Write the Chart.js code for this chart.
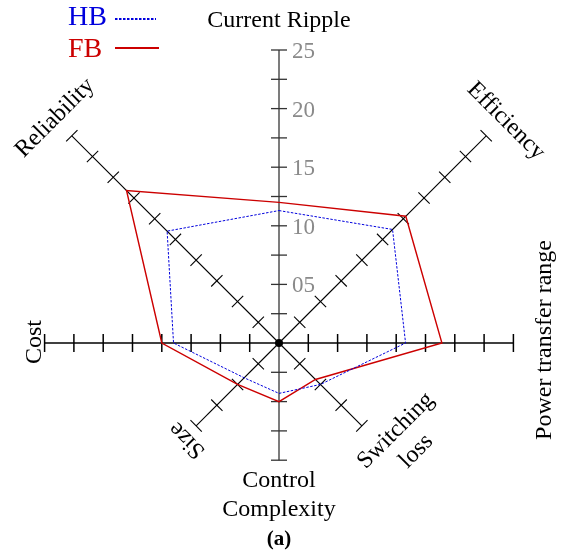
<!DOCTYPE html>
<html>
<head>
<meta charset="utf-8">
<title>HB / FB</title>
<script src="https://cdn.jsdelivr.net/npm/chart.js@4.4.0/dist/chart.umd.min.js"></script>
<style>
  html, body { margin: 0; padding: 0; background: #fff; overflow: hidden; }
  #radar { display: block; }
</style>
</head>
<body>
<canvas id="radar" width="571" height="559"></canvas>
<script>
/* =======================================
   RADAR HB vs FB
======================================= */

// -------------------------
// Data
// -------------------------
const categories = ['Current Ripple', 'Efficiency', 'Power transfer range', ['Switching', 'loss'],
                    ['Control', 'Complexity'], 'Size', 'Cost', 'Reliability'];
const hbValues = [11.3, 13.7, 10.8, 5.0, 4.3, 4.2, 9.0, 13.5];
const fbValues = [12.0, 15.3, 13.9, 4.4, 5.0, 5.0, 10.0, 18.4];
const axisExtent = [25, 25, 20, 10, 10, 10, 20, 25];
const tickLabels = ['05', '10', '15', '20', '25'];
const scaleMax = 25;
const tickStep = 2.5;

// -------------------------
// Layout / styles
// -------------------------
const CENTER_X = 279, CENTER_Y = 343, RADIUS = 293;
const SERIF = '"Liberation Serif", "Times New Roman", serif';
const HB_COLOR = '#0000dd';
const FB_COLOR = '#cc0000';

// where each axis title sits (text centre + rotation in degrees)
const titlePlacement = [
    { x: 279, y: 21,  rot: 0 },
    { x: 506, y: 121, rot: 45 },
    { x: 545, y: 340, rot: -90 },
    { x: 406, y: 441, rot: -45 },
    { x: 279, y: 495, rot: 0 },
    { x: 187, y: 440, rot: 225 },
    { x: 35,  y: 342, rot: -90 },
    { x: 55,  y: 118, rot: -45 }
];

// -------------------------
// Axes, ticks and titles
// -------------------------
const radarAxes = {
    id: 'radarAxes',
    beforeDatasetsDraw(chart) {
        const ctx = chart.ctx;
        const scale = chart.scales.r;
        const dist = v => scale.getDistanceFromCenterForValue(v);

        ctx.save();
        ctx.lineCap = 'butt';

        axisExtent.forEach((extent, i) => {
            const vertical = (i === 0 || i === 4);
            const horizontal = (i === 2 || i === 6);
            const end = scale.getPointPosition(i, dist(extent));
            const angle = scale.getIndexAngle(i) - Math.PI / 2;
            const nx = -Math.sin(angle), ny = Math.cos(angle);
            const half = horizontal ? 9 : 8;

            ctx.strokeStyle = vertical ? '#7c7c7c' : '#000';
            ctx.lineWidth = vertical ? 2 : (horizontal ? 1.5 : 1.1);
            ctx.beginPath();
            ctx.moveTo(scale.xCenter, scale.yCenter);
            ctx.lineTo(end.x, end.y);
            ctx.stroke();

            if (vertical) {
                ctx.strokeStyle = '#333';
                ctx.lineWidth = 1.3;
            }
            for (let v = tickStep; v <= extent + 1e-6; v += tickStep) {
                const p = scale.getPointPosition(i, dist(v));
                ctx.beginPath();
                ctx.moveTo(p.x - nx * half, p.y - ny * half);
                ctx.lineTo(p.x + nx * half, p.y + ny * half);
                ctx.stroke();
            }
        });

        // tick numbers along the top axis
        ctx.fillStyle = '#8a8a8a';
        ctx.font = '23px ' + SERIF;
        ctx.textAlign = 'left';
        ctx.textBaseline = 'middle';
        tickLabels.forEach(txt => {
            const p = scale.getPointPosition(0, dist(parseFloat(txt)));
            ctx.fillText(txt, p.x + 13, p.y + 2);
        });

        // axis titles
        ctx.fillStyle = '#000';
        ctx.font = '24px ' + SERIF;
        ctx.textAlign = 'center';
        categories.forEach((label, i) => {
            const place = titlePlacement[i];
            const lines = Array.isArray(label) ? label : [label];
            const lh = 29;
            ctx.save();
            ctx.translate(place.x, place.y);
            ctx.rotate(place.rot * Math.PI / 180);
            lines.forEach((line, k) => {
                ctx.fillText(line, 0, (k - (lines.length - 1) / 2) * lh);
            });
            ctx.restore();
        });

        // caption
        ctx.font = 'bold 21px ' + SERIF;
        ctx.fillText('(a)', 279, 540);

        ctx.restore();
    },
    afterDatasetsDraw(chart) {
        const ctx = chart.ctx;
        const scale = chart.scales.r;
        ctx.save();

        // centre dot
        ctx.fillStyle = '#000';
        ctx.beginPath();
        ctx.arc(scale.xCenter, scale.yCenter, 4, 0, Math.PI * 2);
        ctx.fill();

        // legend
        ctx.font = '28px ' + SERIF;
        ctx.textAlign = 'left';
        ctx.textBaseline = 'alphabetic';
        chart.data.datasets.forEach((ds, k) => {
            const base = k === 0 ? 25 : 57;
            const ly = k === 0 ? 19 : 48;
            ctx.fillStyle = ds.borderColor;
            ctx.fillText(ds.label, 68, base);
            ctx.strokeStyle = ds.borderColor;
            ctx.lineWidth = 2;
            ctx.setLineDash(ds.borderDash || []);
            ctx.beginPath();
            ctx.moveTo(115, ly);
            ctx.lineTo(k === 0 ? 156 : 159, ly);
            ctx.stroke();
        });

        ctx.restore();
    }
};

// -------------------------
// Chart
// -------------------------
new Chart(document.getElementById('radar'), {
    type: 'radar',
    data: {
        labels: categories,
        datasets: [
            {
                label: 'HB',
                data: hbValues,
                borderColor: HB_COLOR,
                borderWidth: 1,
                borderDash: [2.5, 1.5],
                fill: false,
                pointRadius: 0,
                tension: 0
            },
            {
                label: 'FB',
                data: fbValues,
                borderColor: FB_COLOR,
                borderWidth: 1.4,
                fill: false,
                pointRadius: 0,
                tension: 0
            }
        ]
    },
    options: {
        responsive: false,
        devicePixelRatio: 1,
        animation: false,
        plugins: {
            legend: { display: false },
            tooltip: { enabled: false }
        },
        scales: {
            r: {
                min: 0,
                max: scaleMax,
                ticks: { display: false, stepSize: tickStep },
                grid: { display: false },
                angleLines: { display: false },
                pointLabels: { display: false },
                afterFit(scale) {
                    scale.xCenter = CENTER_X;
                    scale.yCenter = CENTER_Y;
                    scale.drawingArea = RADIUS;
                }
            }
        }
    },
    plugins: [radarAxes]
});
</script>
</body>
</html>
